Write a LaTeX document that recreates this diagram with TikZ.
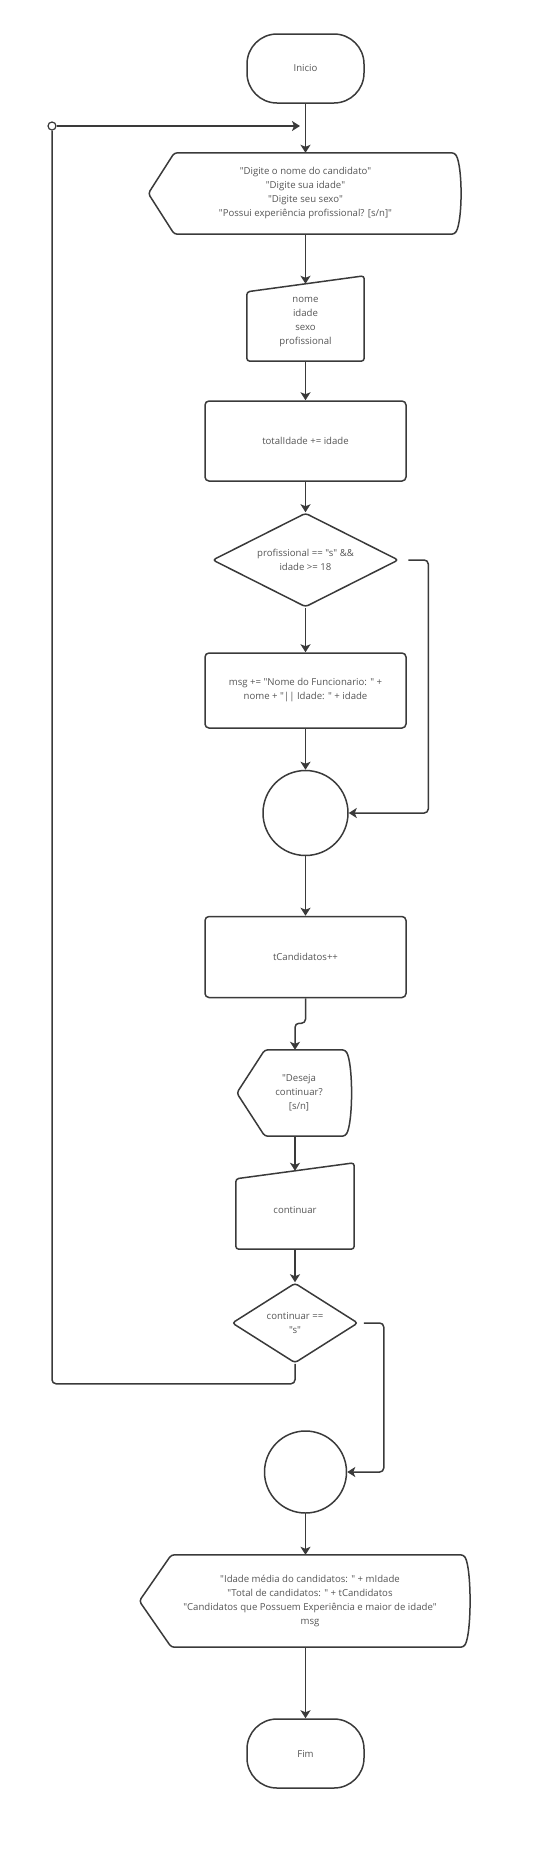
\documentclass[tikz,border=0pt]{standalone}
\usepackage{fontspec}
\setmainfont{Open Sans}[Ligatures=TeXOff]
\usetikzlibrary{shapes.geometric,arrows.meta}
\definecolor{ink}{HTML}{3A3A3A}
\definecolor{txt}{HTML}{555555}
% outline of a display box: node, length of the left point
\newcommand{\dispoutline}[2]{%
  \draw[shp] ([xshift=#2]#1.north west) -- ([xshift=-8pt]#1.north east)
    .. controls ([yshift=-14pt]#1.north east) and ([yshift=14pt]#1.south east) .. ([xshift=-8pt]#1.south east)
    -- ([xshift=#2]#1.south west) -- (#1.west) -- cycle;}
\begin{document}
\begin{tikzpicture}[x=1pt,y=-1pt,
  every node/.style={font=\fontsize{9.6}{14}\selectfont,text=txt,align=center,inner sep=0pt},
  term/.style={draw=ink,line width=1.5pt,rounded corners=30pt,minimum width=117pt,minimum height=69pt},
  proc/.style={draw=ink,line width=1.5pt,rounded corners=4pt,minimum width=201pt},
  dec/.style={draw=ink,line width=1.5pt,diamond,rounded corners=3pt},
  junc/.style={draw=ink,line width=1.5pt,circle,minimum size=85pt},
  shp/.style={draw=ink,line width=1.5pt,rounded corners=3pt},
  arr/.style={draw=ink,line width=1.5pt,rounded corners=4pt,-{Stealth[length=8pt,width=10pt,inset=2pt]}},
  conn/.style={draw=ink,line width=1.5pt,rounded corners=4pt}]
\useasboundingbox (0,0) rectangle (534,1869);

\node[term] (ini) at (305.5,68.5) {Inicio};
\node[draw=ink,line width=1.2pt,fill=white,circle,minimum size=8pt] (j0) at (52,126) {};
\coordinate (lp) at (300,126);

\node (d1) [minimum width=314pt,minimum height=81pt] at (305.5,193.5)
  {"Digite o nome do candidato"\\"Digite sua idade"\\"Digite seu sexo"\\"Possui experiência profissional? [s/n]"};
\dispoutline{d1}{26pt}

\node (m1) [minimum width=117pt,minimum height=77pt] at (305.5,322.5) {nome\\idade\\sexo\\profissional};
\draw[shp] ([yshift=-8pt]m1.north west) -- ([yshift=8pt]m1.north east) -- (m1.south east) -- (m1.south west) -- cycle;

\node[proc,minimum height=80pt] (p1) at (305.5,441) {totalIdade += idade};
\node[dec,aspect=2,minimum width=186pt,minimum height=94pt] (c1) at (305.5,560) {profissional == "s" \&\&\\idade >= 18};
\node[proc,minimum height=75pt] (p2) at (305.5,690.5) {msg += "Nome do Funcionario: " +\\nome + "|| Idade: " + idade};
\node[junc] (j1) at (305.5,813) {};
\node[proc,minimum height=81pt] (p3) at (305.5,957) {tCandidatos++};

\node (d2) [minimum width=116pt,minimum height=86pt] at (295,1093) {\hspace*{8pt}"Deseja\\\hspace*{8pt}continuar?\\\hspace*{8pt}[s/n]};
\dispoutline{d2}{28pt}

\node (m2) [minimum width=118pt,minimum height=78pt] at (295,1210) {continuar};
\draw[shp] ([yshift=-8pt]m2.north west) -- ([yshift=8pt]m2.north east) -- (m2.south east) -- (m2.south west) -- cycle;

\node[dec,aspect=1.6,minimum width=126pt,minimum height=80pt] (c2) at (295,1323) {continuar ==\\"s"};
\node[junc,minimum size=82pt] (j2) at (305.5,1472) {};

\node (d3) [minimum width=332pt,minimum height=92pt] at (305.5,1601)
  {\hspace*{9pt}"Idade média do candidatos: " + mIdade\\\hspace*{9pt}"Total de candidatos: " + tCandidatos\\\hspace*{9pt}"Candidatos que Possuem Experiência e maior de idade"\\\hspace*{9pt}msg};
\dispoutline{d3}{32pt}

\node[term] (fim) at (305.5,1753.5) {Fim};

\draw[arr] (ini) -- (d1);
\draw[arr] (j0) -- (lp);
\draw[arr] (d1) -- (m1);
\draw[arr] (m1) -- (p1);
\draw[arr] (p1) -- (c1);
\draw[arr] (c1) -- (p2);
\draw[arr] ([xshift=9pt]c1.east) -- ++(20,0) |- (j1.east);
\draw[arr] (p2) -- (j1);
\draw[arr] (j1) -- (p3);
\draw[arr] (p3.south) -- ++(0,25) -| (d2.north);
\draw[arr] (d2) -- (m2);
\draw[arr] (m2) -- (c2);
\draw[conn] (c2.south) -- ++(0,20) -| (j0.south);
\draw[arr] ([xshift=5pt]c2.east) -- ++(20,0) |- (j2.east);
\draw[arr] (j2) -- (d3);
\draw[arr] (d3) -- (fim);
\end{tikzpicture}
\end{document}
